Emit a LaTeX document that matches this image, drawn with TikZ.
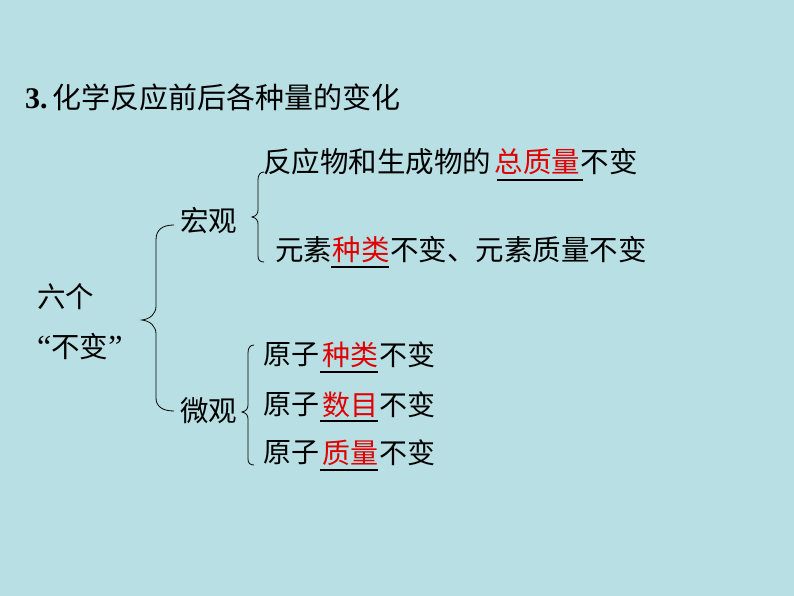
\documentclass[tikz,border=0pt]{standalone}
\usepackage{fontspec}
\setmainfont{Liberation Serif}
\newfontfamily\cjk{Noto Sans CJK SC}
\definecolor{bgc}{RGB}{184,223,227}
\definecolor{hl}{RGB}{225,0,0}
\begin{document}
\begin{tikzpicture}[x=1pt,y=-1pt,
  txt/.style={anchor=west,inner sep=0pt,font=\fontsize{28.5}{34}\selectfont\cjk,text=black},
  red/.style={txt,text=hl},
  sm/.style={font=\fontsize{28}{34}\selectfont\cjk},
  ttl/.style={anchor=west,inner sep=0pt,font=\fontsize{30}{36}\selectfont},
  brc/.style={draw=black,line width=0.8pt},
  ul/.style={draw=black,line width=1.6pt}]
\fill[bgc] (0,0) rectangle (794,596);
\useasboundingbox (0,0) rectangle (794,596);
% title
\node[ttl] (title) at (25,97) {\textbf{3.}\hspace{5pt}{\fontsize{29}{36}\selectfont\cjk 化学反应前后各种量的变化}};
% left label
\node[txt] (six) at (37,297) {六个};
\node[txt] (bubian) at (37,347) {{\rmfamily\fontsize{32}{36}\selectfont “}不变{\rmfamily\fontsize{32}{36}\selectfont ”}};
% level 2
\node[txt] (hong) at (180,221) {宏观};
\node[txt] (wei) at (180,411) {微观};
% macro lines
\node[txt] (m1a) at (263,162) {反应物和生成物的};
\node[red] (m1b) at ([xshift=3pt]m1a.east) {总质量};
\node[txt] (m1c) at (m1b.east) {不变};
\node[txt] (m2a) at (275,250) {元素};
\node[red] (m2b) at ([xshift=0pt]m2a.east) {种类};
\node[txt] (m2c) at (m2b.east) {不变、元素质量不变};
% micro lines
\node[txt,sm] (a1) at (263,355) {原子};
\node[red,sm] (a1b) at ([xshift=3pt]a1.east) {种类};
\node[txt,sm] (a1c) at (a1b.east) {不变};
\node[txt,sm] (a2) at (263,405) {原子};
\node[red,sm] (a2b) at ([xshift=3pt]a2.east) {数目};
\node[txt,sm] (a2c) at (a2b.east) {不变};
\node[txt,sm] (a3) at (263,453) {原子};
\node[red,sm] (a3b) at ([xshift=3pt]a3.east) {质量};
\node[txt,sm] (a3c) at (a3b.east) {不变};
% underlines
\draw[ul] (497,180) -- (583,180);
\draw[ul] (331,267) -- (389,267);
\draw[ul] (320,372) -- (378,372);
\draw[ul] (320,421) -- (378,421);
\draw[ul] (320,470) -- (378,470);
% big brace
\draw[brc] (174,225) .. controls (162,225) and (156,230) .. (156,240)
  -- (156,306) .. controls (156,314) and (150,319) .. (142,320)
  .. controls (150,321) and (156,326) .. (156,334)
  -- (156,398) .. controls (156,406) and (162,411) .. (174,411);
% brace macro
\draw[brc] (264,172) .. controls (260,172) and (258,175) .. (258,180)
  -- (258,210) .. controls (258,214) and (256,216) .. (252,217)
  .. controls (256,218) and (258,220) .. (258,224)
  -- (258,256) .. controls (258,260) and (260,262) .. (264,262);
% brace micro
\draw[brc] (254,345) .. controls (250,345) and (248,348) .. (248,353)
  -- (248,405) .. controls (248,409) and (246,411) .. (242,412)
  .. controls (246,413) and (248,415) .. (248,419)
  -- (248,459) .. controls (248,463) and (250,465) .. (254,465);
\end{tikzpicture}
\end{document}
